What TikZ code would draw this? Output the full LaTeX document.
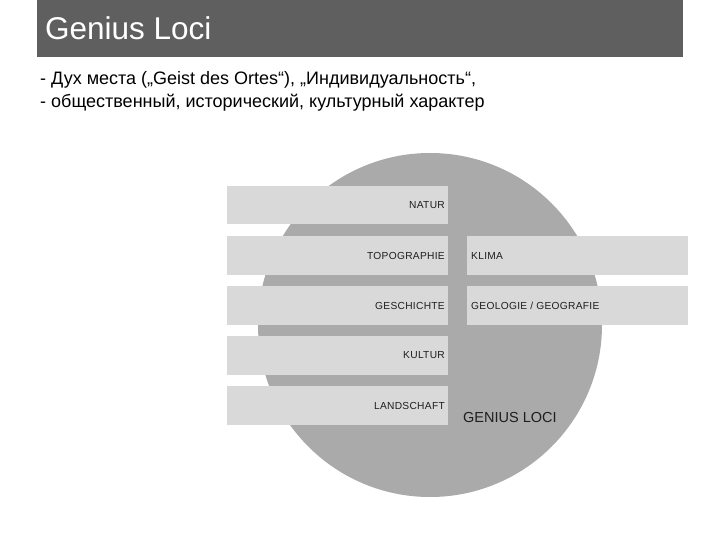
\documentclass[tikz,border=0pt]{standalone}
\usepackage{fontspec}
\setmainfont{Liberation Sans}
\newfontfamily\barfont[LetterSpace=3]{Liberation Sans}
\definecolor{headgray}{HTML}{5F5F5F}
\definecolor{circgray}{HTML}{AAAAAA}
\definecolor{bargray}{HTML}{D9D9D9}
\definecolor{labgray}{HTML}{1E1E1E}
\begin{document}
\begin{tikzpicture}[x=1pt,y=-1pt,
  bar/.style={fill=bargray,draw=none},
  barlabel/.style={font=\barfont\fontsize{10.2}{12}\selectfont,text=labgray,inner sep=0pt},
  bodytext/.style={font=\fontsize{18}{21}\selectfont,anchor=base west,inner sep=0pt,text=black}]
\useasboundingbox (0,0) rectangle (720,540);
% header
\fill[headgray] (37,0) rectangle (683,57);
\node[anchor=base west,inner sep=0pt,text=white,font=\fontsize{31.5}{36}\selectfont] (title) at (45,39.3) {Genius Loci};
% body text
\node[bodytext] (line1) at (40,85) {- Дух места („Geist des Ortes“), „Индивидуальность“,};
\node[bodytext] (line2) at (40,107.5) {- общественный, исторический, культурный характер};
% circle
\fill[circgray] (430,325) circle (172);
% bars left
\foreach \i/\nm/\txt in {0/natur/NATUR,1/topo/TOPOGRAPHIE,2/gesch/GESCHICHTE,3/kultur/KULTUR,4/land/LANDSCHAFT}{
  \fill[bar] (227,{186+50*\i}) rectangle (448,{224.5+50*\i});
  \node[barlabel,anchor=east] (\nm) at (445,{205.5+50*\i}) {\txt};
}
% bars right
\foreach \i/\nm/\txt in {1/klima/{KLIMA},2/geo/{GEOLOGIE / GEOGRAFIE}}{
  \fill[bar] (467,{186+50*\i}) rectangle (688,{224.5+50*\i});
  \node[barlabel,anchor=west] (\nm) at (471,{205.5+50*\i}) {\txt};
}
\node[anchor=west,inner sep=0pt,text=labgray,font=\fontsize{14.5}{17}\selectfont] (genius) at (463,418) {GENIUS LOCI};
\end{tikzpicture}
\end{document}
